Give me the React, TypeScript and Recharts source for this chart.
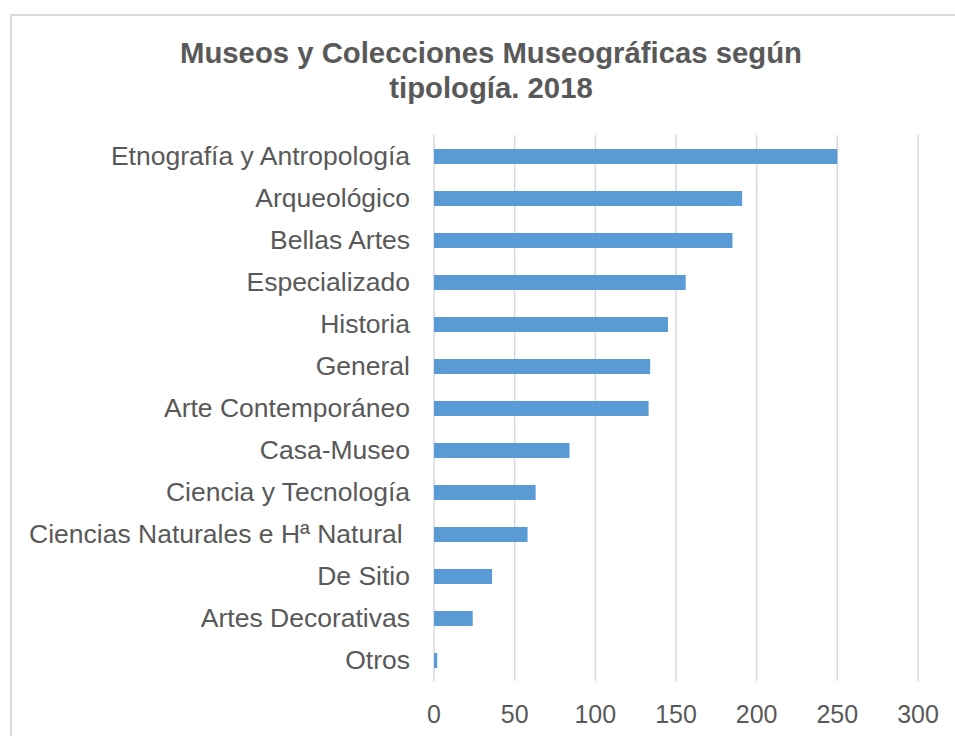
import { BarChart, Bar, XAxis, YAxis, CartesianGrid } from "recharts"

const categories = [
  "Etnografía y Antropología",
  "Arqueológico",
  "Bellas Artes",
  "Especializado",
  "Historia",
  "General",
  "Arte Contemporáneo",
  "Casa-Museo",
  "Ciencia y Tecnología",
  "Ciencias Naturales e Hª Natural\u00a0",
  "De Sitio",
  "Artes Decorativas",
  "Otros",
]

const museos = [250, 191, 185, 156, 145, 134, 133, 84, 63, 58, 36, 24, 2]

const xTicks = [0, 50, 100, 150, 200, 250, 300]

const titleLines = ["Museos y Colecciones Museográficas según", "tipología. 2018"]

const data = categories.map((tipo, i) => ({ tipo, museos: museos[i] }))

const FONT = '"Liberation Sans", Arial, sans-serif'

const TITLE: React.CSSProperties = {
  position: "absolute",
  left: 41,
  width: 900,
  textAlign: "center",
  fontFamily: FONT,
  fontWeight: 700,
  fontSize: 29.3,
  lineHeight: "35px",
  color: "#595959",
  whiteSpace: "nowrap",
}

export default function App() {
  return (
    <div
      style={{
        position: "absolute",
        left: 0,
        top: 0,
        width: 955,
        height: 736,
        overflow: "hidden",
        background: "#fff",
      }}
    >
      <div
        style={{
          position: "absolute",
          left: 10,
          top: 14,
          width: 1000,
          height: 800,
          border: "2px solid #d9d9d9",
        }}
      />
      <div style={{ ...TITLE, top: 35 }}>{titleLines[0]}</div>
      <div style={{ ...TITLE, top: 70 }}>{titleLines[1]}</div>
      <div style={{ position: "absolute", left: 0, top: 0 }}>
        <BarChart
          width={955}
          height={736}
          data={data}
          layout="vertical"
          margin={{ top: 135, right: 37, bottom: 0, left: 0 }}
        >
          <CartesianGrid horizontal={false} stroke="#d9d9d9" strokeWidth={1.5} />
          <XAxis
            type="number"
            domain={[0, 300]}
            ticks={xTicks}
            height={55}
            axisLine={false}
            tickLine={false}
            tickSize={0}
            tickMargin={24}
            tick={{ fontSize: 25, fill: "#595959", fontFamily: FONT }}
          />
          <YAxis
            type="category"
            dataKey="tipo"
            width={434}
            interval={0}
            axisLine={false}
            tickLine={false}
            tickSize={0}
            tickMargin={24}
            tick={{ fontSize: 26.5, fill: "#595959", fontFamily: FONT }}
          />
          <Bar dataKey="museos" fill="#5b9bd5" barSize={15} isAnimationActive={false} />
        </BarChart>
      </div>
    </div>
  )
}
